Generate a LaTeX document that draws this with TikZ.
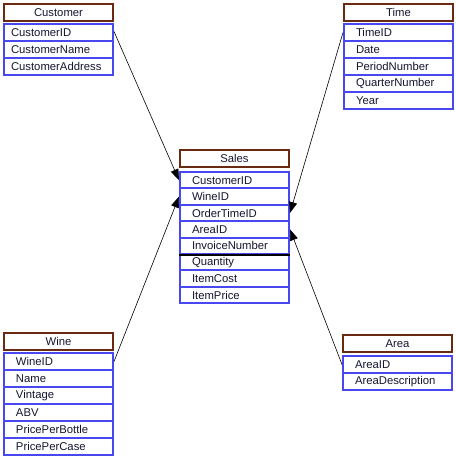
\documentclass[tikz,border=0pt]{standalone}
\usepackage{fontspec}
\setmainfont{Liberation Sans}
\usetikzlibrary{arrows.meta}
\definecolor{titlebrown}{HTML}{6A2A12}
\definecolor{fieldblue}{HTML}{4848F0}
\definecolor{txt}{HTML}{141430}
\tikzset{
  titlebox/.style={draw=titlebrown, line width=2pt, minimum width=109pt, minimum height=17pt,
    inner sep=0pt, anchor=north west, font=\fontsize{11.3}{12}\selectfont, text=txt},
  rowbase/.style={draw=fieldblue, line width=2pt, minimum width=109pt, minimum height=#1,
    inner xsep=7pt, inner ysep=0pt, text width=95pt, align=left, anchor=north west,
    font=\fontsize{11.3}{12}\selectfont, text=txt,
    execute at begin node={\hyphenpenalty=10000 \exhyphenpenalty=10000 }},
  rowbase/.default=17pt,
  rowbox/.style={rowbase=#1, execute at begin node={\hspace*{5pt}}},
  rowbox/.default=17pt,
  link/.style={line width=0.6pt, -{Triangle[length=11pt,width=8pt]}}
}
\begin{document}
\begin{tikzpicture}[x=1pt,y=-1pt]
\useasboundingbox (0,0) rectangle (455,457);
% Customer
\node[titlebox] (ct) at (3,3) {Customer};
\node[rowbase] (c1) at (3,23) {CustomerID};
\node[rowbase] (c2) at (3,40) {CustomerName};
\node[rowbase] (c3) at (3,57) {CustomerAddress};
% Time
\node[titlebox] (tt) at (343,3) {Time};
\node[rowbox] (t1) at (343,23) {TimeID};
\node[rowbox] (t2) at (343,40) {Date};
\node[rowbox] (t3) at (343,57) {PeriodNumber};
\node[rowbox] (t4) at (343,74) {QuarterNumber};
\node[rowbox] (t5) at (343,91) {Year};
% Sales
\node[titlebox] (st) at (179,149) {Sales};
\node[rowbox=16.4pt] (s1) at (179,171) {CustomerID};
\node[rowbox=16.4pt] (s2) at (179,187.4) {WineID};
\node[rowbox=16.4pt] (s3) at (179,203.8) {OrderTimeID};
\node[rowbox=16.4pt] (s4) at (179,220.2) {AreaID};
\node[rowbox=16.4pt] (s5) at (179,236.6) {InvoiceNumber};
\node[rowbox=16.4pt] (s6) at (179,253) {Quantity};
\node[rowbox=16.4pt] (s7) at (179,269.4) {ItemCost};
\node[rowbox=16.4pt] (s8) at (179,285.8) {ItemPrice};
\draw[line width=2.5pt, black] (s5.south west) -- (s5.south east);
% Wine
\node[titlebox] (wt) at (3,332) {Wine};
\node[rowbox] (w1) at (3,352) {WineID};
\node[rowbox] (w2) at (3,369) {Name};
\node[rowbox] (w3) at (3,386) {Vintage};
\node[rowbox] (w4) at (3,403) {ABV};
\node[rowbox] (w5) at (3,420) {PricePerBottle};
\node[rowbox] (w6) at (3,437) {PricePerCase};
% Area
\node[titlebox] (at) at (342,334) {Area};
\node[rowbox] (a1) at (342,355) {AreaID};
\node[rowbox] (a2) at (342,372) {AreaDescription};
% Links
\draw[link] ([yshift=1pt]c1.east) -- (s1.west);
\draw[link] (w1.east) -- (s2.west);
\draw[link] (t1.west) -- (s3.east);
\draw[link] (a1.west) -- (s4.east);
\end{tikzpicture}
\end{document}
